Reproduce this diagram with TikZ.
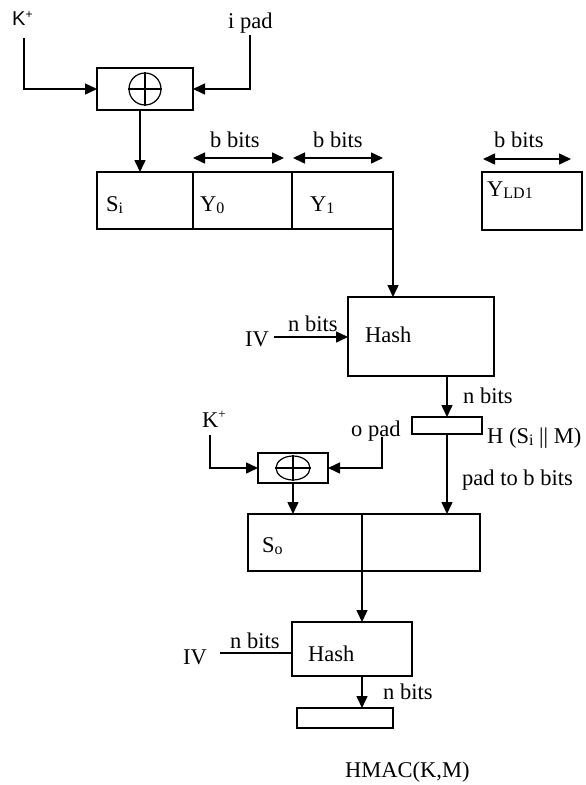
\documentclass[tikz,border=0pt]{standalone}
\usepackage{fontspec}
\setmainfont{Liberation Serif}
\newfontfamily\arialfont{Liberation Sans}
\usetikzlibrary{arrows.meta,shapes.geometric}
\newcommand\lowsub[1]{\raisebox{-0.12em}{\fontsize{16}{16}\selectfont #1}}
\begin{document}
\begin{tikzpicture}[x=1pt,y=-1pt,
  box/.style={draw,line width=1.6pt,inner sep=0pt,outer sep=0pt,anchor=north west},
  conn/.style={line width=1.5pt},
  arr/.style={conn,-{Triangle[length=12pt,width=11pt]}},
  darr/.style={conn,{Triangle[length=12pt,width=11pt]}-{Triangle[length=12pt,width=11pt]}},
  lbl/.style={font=\fontsize{22.5}{26}\selectfont,inner sep=0pt,anchor=base west},
]
\useasboundingbox (0,0) rectangle (586,785);
% first XOR
\node[box,minimum width=96pt,minimum height=42pt] (xor1) at (97,68) {};
\node[draw,circle,line width=1.2pt,minimum size=32pt,inner sep=0pt] (c1) at (145,89) {};
\draw[line width=1.2pt] (c1.north) -- (c1.south) (c1.west) -- (c1.east);
\node[lbl,font=\arialfont\fontsize{20}{24}\selectfont] (kp1) at (12,25) {K\raisebox{0.35em}{\fontsize{12}{12}\selectfont +}};
\coordinate (k1) at (24,38);
\draw[arr] (k1) |- (xor1.west);
\node[lbl] (ipad) at (228,28) {i pad};
\coordinate (ip) at (250,35);
\draw[arr] (ip) |- (xor1.east);
% big block
\node[box,minimum width=96pt,minimum height=57pt] (si) at (97,172) {};
\node[box,minimum width=99pt,minimum height=57pt] (y0) at (193,172) {};
\node[box,minimum width=101pt,minimum height=57pt] (y1) at (292,172) {};
\node[lbl] (sil) at (106,211) {S\lowsub{i}};
\node[lbl] (y0l) at (200,211) {Y\lowsub{0}};
\node[lbl] (y1l) at (310,211) {Y\lowsub{1}};
\draw[arr] ([xshift=-5pt]xor1.south) -- ([xshift=-5pt]xor1.south |- si.north);
% b bits
\coordinate (ba1) at (193,158); \coordinate (ba2) at (284,158);
\coordinate (bb1) at (293,158); \coordinate (bb2) at (383,158);
\coordinate (bc1) at (483,159); \coordinate (bc2) at (571,159);
\draw[darr] (ba1) -- (ba2);
\draw[darr] (bb1) -- (bb2);
\draw[darr] (bc1) -- (bc2);
\node[lbl] (bl1) at (210,147) {b bits};
\node[lbl] (bl2) at (313,147) {b bits};
\node[lbl] (bl3) at (494,147) {b bits};
% Y_LD1
\node[box,minimum width=100pt,minimum height=58pt] (yld) at (482,172) {};
\node[lbl] (yldl) at (487,196) {Y\lowsub{LD1}};
% Hash 1
\node[box,minimum width=146pt,minimum height=79pt] (hash1) at (348,297) {};
\node[lbl] (h1l) at (365,342) {Hash};
\draw[arr] (y1.south east) -- (y1.south east |- hash1.north);
\node[lbl] (iv1l) at (245,346) {IV};
\coordinate (iv1) at (274,337);
\draw[arr] (iv1) -- (iv1 -| hash1.west);
\node[lbl] (nb1) at (288,331) {n bits};
% small box H(Si||M)
\node[box,minimum width=70pt,minimum height=17pt] (hsm) at (412,417) {};
\draw[arr] (hsm.north |- hash1.south) -- (hsm.north);
\node[lbl] (nb2) at (463,403) {n bits};
\node[lbl] (hsml) at (487,443) {H (S\lowsub{i} || M)};
% second XOR
\node[box,minimum width=70pt,minimum height=30pt] (xor2) at (258,453) {};
\node[draw,ellipse,line width=1.2pt,minimum width=34pt,minimum height=24pt,inner sep=0pt] (c2) at (293,468) {};
\draw[line width=1.2pt] (c2.north) -- (c2.south) (c2.west) -- (c2.east);
\node[lbl] (kp2) at (202,427) {K\raisebox{0.4em}{\fontsize{13}{13}\selectfont +}};
\coordinate (k2) at (210,435);
\draw[arr] (k2) |- (xor2.west);
\node[lbl] (opad) at (351,436) {o pad};
\coordinate (op) at (382,437);
\draw[arr] (op) |- (xor2.east);
% So block
\node[box,minimum width=114pt,minimum height=57pt] (so1) at (248,514) {};
\node[box,minimum width=118pt,minimum height=57pt] (so2) at (362,514) {};
\node[lbl] (sol) at (262,552) {S\lowsub{o}};
\draw[arr] (xor2.south) -- (xor2.south |- so1.north);
\draw[arr] (hsm.south) -- (hsm.south |- so2.north);
\node[lbl] (padl) at (462,485) {pad to b bits};
% Hash 2
\node[box,minimum width=120pt,minimum height=54pt] (hash2) at (292,622) {};
\node[lbl] (h2l) at (308,661) {Hash};
\draw[arr] (so1.south east) -- (so1.south east |- hash2.north);
\node[lbl] (iv2l) at (183,664) {IV};
\coordinate (iv2) at (220,653);
\draw[conn] (iv2) -- (iv2 -| hash2.west);
\node[lbl] (nb3) at (230,648) {n bits};
% output
\node[box,minimum width=96pt,minimum height=20pt] (out) at (297,708) {};
\draw[arr] (so1.south east |- hash2.south) -- (so1.south east |- out.north);
\node[lbl] (nb4) at (383,699) {n bits};
\node[lbl] (hmac) at (345,777) {HMAC(K,M)};
\end{tikzpicture}
\end{document}
